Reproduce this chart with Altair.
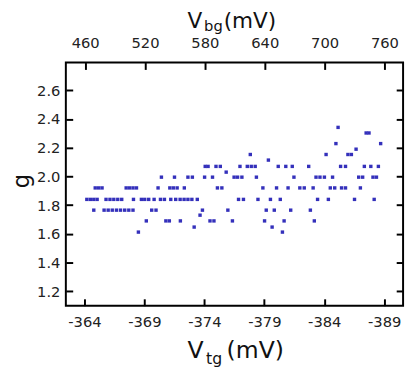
import altair as alt
import pandas as pd

# ---- data ----
g_levels = [1.612, 1.647, 1.69, 1.73, 1.765, 1.84, 1.92, 1.995, 2.03, 2.07, 2.114, 2.153, 2.19, 2.229, 2.303, 2.342]
vtg_at_level = [
    [-368.50, -380.51],
    [-373.15, -379.65],
    [-369.16, -370.79, -371.08, -372.00, -374.47, -374.80, -376.34, -379.02, -380.65, -383.17],
    [-373.64],
    [-364.78, -365.64, -365.98, -366.32, -366.67, -367.01, -367.36, -367.70, -368.05, -369.61,
     -369.97, -373.84, -375.96, -379.16, -379.83, -381.20, -382.84],
    [-364.20, -364.49, -364.78, -365.06, -365.80, -366.13, -366.45, -366.78, -367.11, -368.09,
     -368.75, -369.03, -369.36, -369.81, -370.34, -370.67, -371.20, -371.61, -371.98, -372.31,
     -372.63, -372.96, -373.41, -376.85, -377.26, -378.47, -379.51, -380.33, -383.44, -384.34,
     -386.52, -388.16],
    [-364.90, -365.19, -365.47, -367.48, -367.76, -368.05, -368.34, -370.14, -371.12, -371.41,
     -371.73, -372.33, -375.09, -375.46, -378.88, -380.02, -380.98, -381.96, -382.33, -383.07,
     -384.50, -384.87, -385.44, -385.77, -387.01],
    [-370.42, -371.51, -372.63, -373.00, -374.02, -374.68, -376.48, -376.77, -377.13, -378.34,
     -381.47, -383.31, -383.64, -384.01, -384.69, -386.87, -387.20, -388.06, -388.35],
    [-375.82],
    [-374.07, -374.31, -374.97, -375.33, -376.97, -377.58, -377.91, -378.24, -380.16, -380.79,
     -381.33, -382.70, -385.36, -385.77, -387.34, -387.88, -388.51],
    [-379.34],
    [-377.83, -384.15, -385.97, -386.26],
    [-386.65],
    [-384.97, -388.70],
    [-387.49, -387.73],
    [-385.15],
]
vtg_ticks = [-364, -369, -374, -379, -384, -389]
vbg_ticks = [460, 520, 580, 640, 700, 760]
g_ticks = [1.2, 1.4, 1.6, 1.8, 2.0, 2.2, 2.4, 2.6]

rows = []
for gl, vs in zip(g_levels, vtg_at_level):
    for v in vs:
        rows.append({"vtg": v, "g": gl})
df = pd.DataFrame(rows)
bg_df = pd.DataFrame({"vbg": vbg_ticks, "gd": [2.0] * len(vbg_ticks)})
one = pd.DataFrame({"k": [0]})

W, H = 344, 248
FONT = "DejaVu Sans"
POINT_COLOR = "#3430bb"

xscale = alt.Scale(domain=[-390.57, -362.45], reverse=True, nice=False, zero=False)
yscale = alt.Scale(domain=[1.099, 2.794], nice=False, zero=False)
bgscale = alt.Scale(domain=[440.6, 778.7], nice=False, zero=False)

common = dict(domain=False, grid=False, tickSize=7, offset=-7, tickWidth=2,
              tickColor="black", labelFont=FONT, labelFontSize=15, labelColor="#222",
              title=None)

points = alt.Chart(df).mark_square(size=12, color=POINT_COLOR, opacity=1).encode(
    x=alt.X("vtg:Q", scale=xscale,
            axis=alt.Axis(orient="bottom", values=vtg_ticks, labelPadding=9,
                          labelExpr="toString(datum.value)", **common)),
    y=alt.Y("g:Q", scale=yscale,
            axis=alt.Axis(orient="left", values=g_ticks, format=".1f", labelPadding=6, **common)),
)

top = alt.Chart(bg_df).mark_point(opacity=0).encode(
    x=alt.X("vbg:Q", scale=bgscale,
            axis=alt.Axis(orient="top", values=vbg_ticks, labelPadding=12, format="d", **common)),
    y=alt.Y("gd:Q", scale=yscale,
            axis=alt.Axis(orient="right", values=g_ticks, labels=False, **common)),
)

def txt(s, x, y, size, angle=0, align="left", baseline="alphabetic"):
    return alt.Chart(one).mark_text(text=s, font=FONT, fontSize=size, color="#111",
                                    align=align, baseline=baseline, angle=angle).encode(
        x=alt.value(x), y=alt.value(y))

titles = [
    txt("g", -45, 121, 23, angle=270, align="center", baseline="middle"),
    txt("V", 124, 301.5, 24),
    txt("tg", 143, 307.5, 16),
    txt("(mV)", 164, 301.5, 24),
    txt("V", 124, -35, 22),
    txt("bg", 141, -32, 15),
    txt("(mV)", 161, -35, 22),
]

chart = alt.layer(points, top, *titles).resolve_scale(
    x="independent", y="independent"
).properties(
    width=W, height=H, autosize="none",
    padding={"left": 59, "top": 52, "right": 4, "bottom": 64},
).configure_view(stroke="black", strokeWidth=2)

chart.save("out.html", embed_options={"renderer": "svg", "actions": False})
